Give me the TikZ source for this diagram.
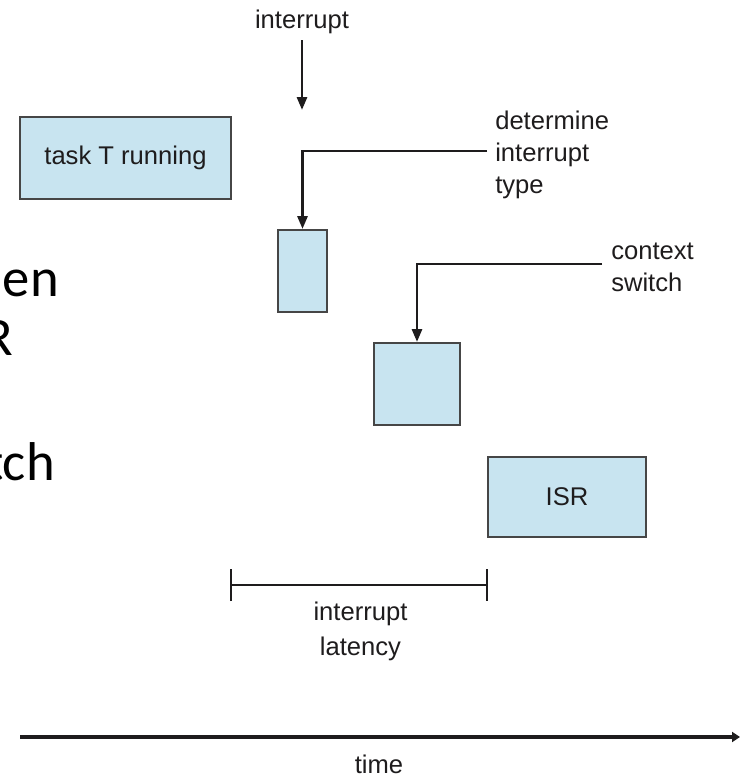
\documentclass[tikz,border=0pt]{standalone}
\usepackage{fontspec}
\setmainfont{Liberation Sans}
\newfontfamily\slidefont{Carlito}
\usetikzlibrary{arrows.meta}
\definecolor{boxfill}{RGB}{200,228,240}
\definecolor{ink}{RGB}{30,28,29}
\definecolor{edge}{RGB}{70,70,70}
\begin{document}
\begin{tikzpicture}[x=0.75pt,y=-0.75pt,
  lbl/.style={font=\fontsize{19.2}{23.75}\selectfont, text=ink, inner sep=0pt},
  blk/.style={draw=edge, line width=1.5pt, fill=boxfill, inner sep=0pt, font=\fontsize{19.2}{23}\selectfont, text=ink},
  arr/.style={draw=ink, line width=2.1pt, -{Triangle[length=9.75pt,width=7.5pt]}},
  slide/.style={font=\slidefont\fontsize{41}{45}\selectfont, text=black, inner sep=0pt}]
\useasboundingbox (0,0) rectangle (740,779);

% cut-off slide text on the left
\node[slide, anchor=base east] (s1) at (59,296) {en};
\node[slide, anchor=base east] (s2) at (13,355) {R};
\node[slide, anchor=base east] (s3) at (55,480) {tch};

% interrupt arrow
\node[lbl, anchor=base] (intr) at (302,28) {interrupt};
\coordinate (itip) at (302,110);
\draw[arr, shorten <=5pt] (intr.south) -- (itip);

% boxes
\node[blk, minimum width=158.25pt, minimum height=61.5pt] (task) at (125.5,158) {task T running};
\node[blk, minimum width=36.75pt, minimum height=61.5pt] (b1) at (302.5,271) {};
\node[blk, minimum width=64.5pt, minimum height=61.5pt] (b2) at (417,384) {};
\node[blk, minimum width=118.5pt, minimum height=60pt] (isr) at (567,497) {ISR};

% labels with bent arrows
\node[lbl, align=left, anchor=west, inner xsep=6pt] (dit) at (487,155) {determine\\interrupt\\type};
\draw[arr] ([yshift=3pt]dit.west) -| (b1.north);

\node[lbl, align=left, anchor=west, inner xsep=6.75pt] (cs) at (602,267.3) {context\\switch};
\draw[arr] ([yshift=2.5pt]cs.west) -| (b2.north);

% interrupt latency bracket
\coordinate (la) at (230,585);
\coordinate (lb) at (488,585);
\draw[draw=ink, line width=1.2pt, {Bar[width=24pt]}-{Bar[width=24pt]}] (la) -- (lb);
\node[lbl, align=center, font=\fontsize{19.2}{26.25}\selectfont, anchor=north] (lat) at (360.5,602) {interrupt\\latency};

% time axis
\coordinate (t0) at (20,737);
\coordinate (t1) at (740,737);
\draw[draw=ink, line width=2.3pt, -{Triangle[length=6pt,width=7.5pt]}] (t0) -- (t1);
\node[lbl, anchor=base] (time) at (379,773) {time};
\end{tikzpicture}
\end{document}
